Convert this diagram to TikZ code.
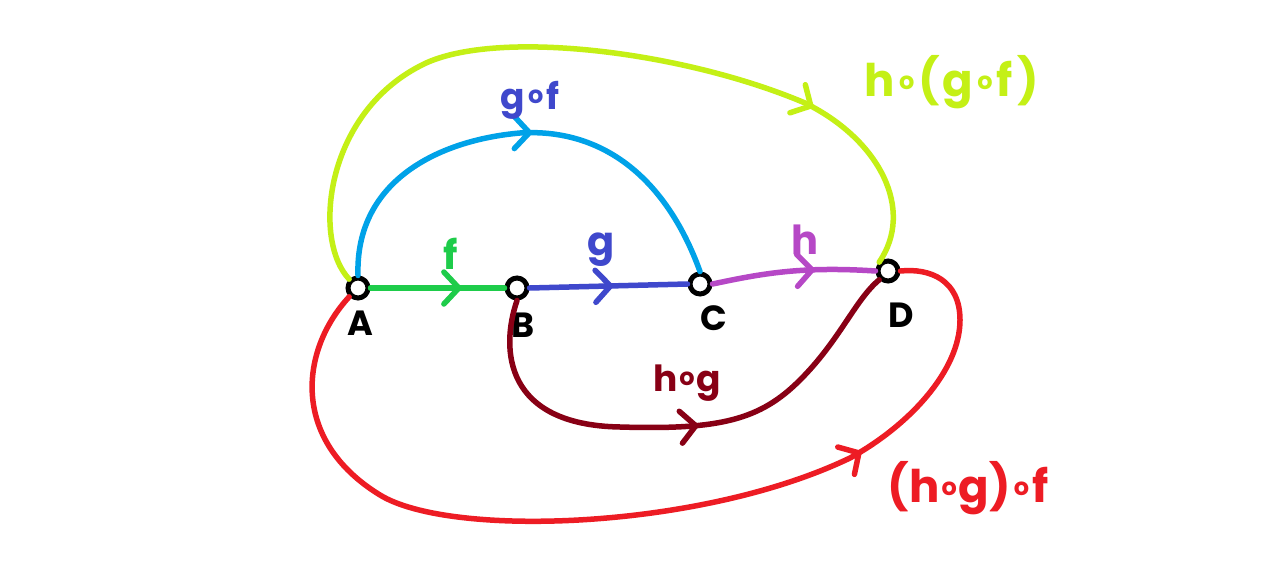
\documentclass[tikz,border=0pt]{standalone}
\usepackage{fontspec}
\setmainfont{Poppins}
\usetikzlibrary{arrows.meta,decorations.markings}

\definecolor{fcol}{RGB}{30,204,74}
\definecolor{gcol}{RGB}{63,72,204}
\definecolor{hcol}{RGB}{182,72,198}
\definecolor{gfcol}{RGB}{0,162,232}
\definecolor{hgfcol}{RGB}{196,240,22}
\definecolor{hgcol}{RGB}{136,0,21}
\definecolor{hgfxcol}{RGB}{237,28,36}

\newcommand\cmp[1]{\kern#1\raisebox{0.16em}{\fontsize{24}{24}\selectfont o}\kern#1}

\begin{document}
\begin{tikzpicture}[x=1pt, y=-1pt,
    vertex/.style={circle, draw=black, fill=white, line width=5pt, minimum size=20pt, inner sep=0pt},
    arrowline/.style={line width=5.5pt, line cap=round, line join=round},
    arrowat/.style={postaction={decorate}, decoration={markings, mark=at position #1 with {\arrow{Straight Barb[length=15pt, width=32pt, line cap=round, line join=round]}}}},
    vname/.style={font=\fontsize{35}{35}\selectfont\bfseries},
    elabel/.style={font=\fontsize{40}{40}\selectfont\bfseries},
    midlabel/.style={font=\fontsize{36}{36}\selectfont\bfseries},
    biglabel/.style={font=\fontsize{45}{45}\selectfont\bfseries}]
        \useasboundingbox[fill=white] (0,0) rectangle (1284,588);

        \node[vertex] (A) at (358,288) {};
        \node[vertex] (B) at (517,288) {};
        \node[vertex] (C) at (700,284) {};
        \node[vertex] (D) at (888,271) {};

        \node[vname] (Aname) at (360,323) {A};
        \node[vname] (Bname) at (523,325) {B};
        \node[vname] (Cname) at (714,318) {C};
        \node[vname] (Dname) at (901,315) {D};

        \draw[arrowline, fcol, arrowat=0.68] (A.east) -- (B.west);
        \draw[arrowline, gcol, arrowat=0.53] (B.east) -- (C.west);
        \draw[arrowline, hcol, arrowat=0.63] (C.east) .. controls (760,274) and (800,266) .. (D.west);

        \draw[arrowline, gfcol, arrowat=0.52] (A.north) .. controls (355,180) and (440,140) .. (520,133)
            .. controls (600,128) and (665,175) .. (C.north);

        \draw[arrowline, hgfcol, arrowat=0.775] (A.north west) .. controls (312,240) and (325,115) .. (420,66)
            .. controls (490,28) and (680,50) .. (805,103)
            .. controls (880,140) and (915,210) .. (D.north west);

        \draw[arrowline, hgcol, arrowat=0.535] (B.south) .. controls (500,350) and (505,425) .. (620,427)
            .. controls (720,430) and (760,420) .. (800,380)
            .. controls (840,340) and (855,300) .. (D.south west);

        \draw[arrowline, hgfxcol, arrowat=0.737] (A.south west) .. controls (300,350) and (290,440) .. (380,495)
            .. controls (450,538) and (700,530) .. (850,458)
            .. controls (910,425) and (960,370) .. (960,320)
            .. controls (960,280) and (930,268) .. (D.east);

        \node[elabel, text=fcol] (flab) at (451,254) {f};
        \node[elabel, text=gcol] (glab) at (601,250) {g};
        \node[elabel, text=hcol] (hlab) at (805,240) {h};
        \node[midlabel, text=gcol] (gflab) at (530,100) {g\cmp{3pt}f};
        \node[biglabel, text=hgfcol] (hgflab) at (952,82) {h\cmp{4pt}(\kern3pt g\cmp{4pt}f\kern5pt)};
        \node[midlabel, text=hgcol] (hglab) at (687,383) {h\cmp{2pt}g};
        \node[biglabel, text=hgfxcol] (hgfxlab) at (968,488) {(h\cmp{2pt}g)\cmp{3pt}f};
\end{tikzpicture}
\end{document}
